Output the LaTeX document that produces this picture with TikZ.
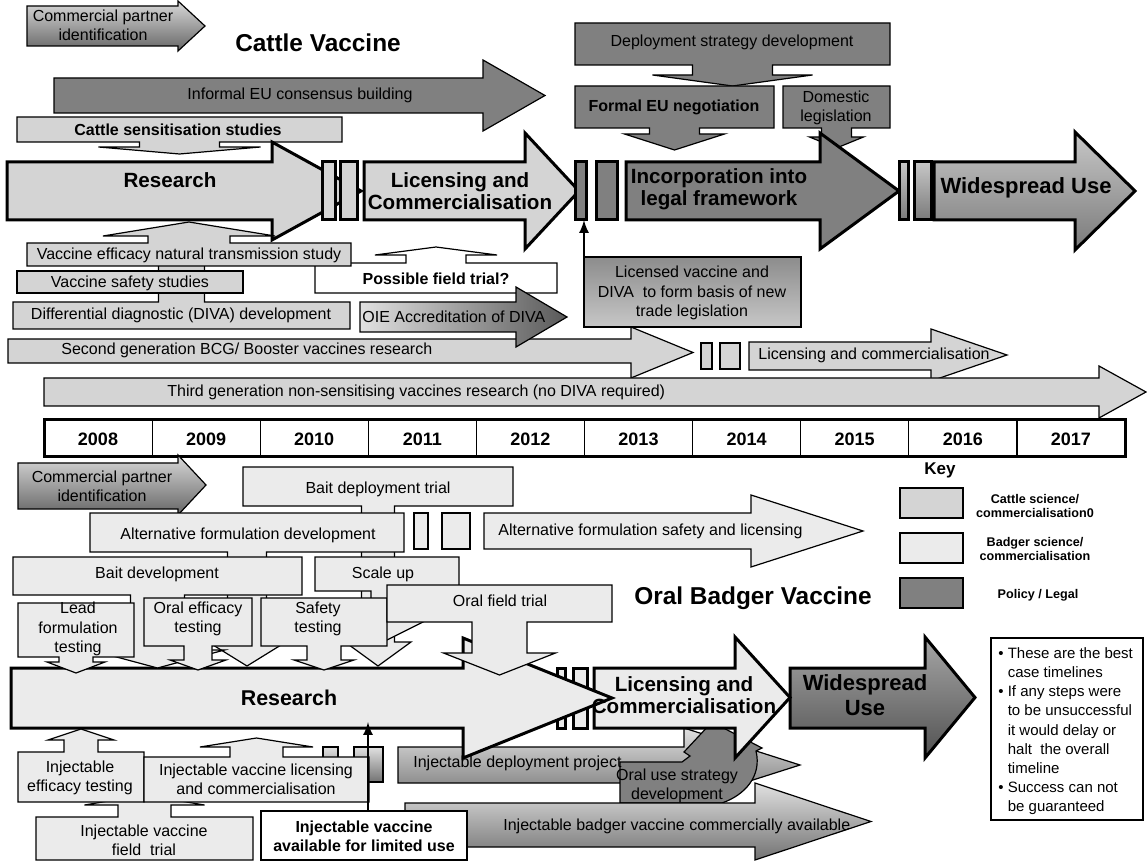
\documentclass[tikz,border=0pt]{standalone}
\usepackage{fontspec}
\setmainfont{Liberation Sans}
\usetikzlibrary{calc,positioning,arrows}

% block arrow to the right: style, x left, y top, x head, y bottom, head top, head bottom, tip x
\newcommand{\blockarr}[8]{\draw[#1] (#2,#3) -- (#4,#3) -- (#4,#6) -- (#8,{(#6+#7)/2}) -- (#4,#7) -- (#4,#5) -- (#2,#5) -- cycle;}
% box with an arrow out of one edge: style, x1, far edge y, x2, arrow edge y, stem half, shoulder y, head half, tip y
\newcommand{\boxarr}[9]{\draw[#1] (#2,#3) -- (#4,#3) -- (#4,#5) -- ({(#2+#4)/2+#6},#5) -- ({(#2+#4)/2+#6},#7) -- ({(#2+#4)/2+#8},#7) -- ({(#2+#4)/2},#9) -- ({(#2+#4)/2-#8},#7) -- ({(#2+#4)/2-#6},#7) -- ({(#2+#4)/2-#6},#5) -- (#2,#5) -- cycle;}

\begin{document}
\begin{tikzpicture}[x=0.5pt,y=-0.5pt,
 cattle/.style={draw, fill=black!17, line width=.6pt},
 badger/.style={draw, fill=black!8, line width=.6pt},
 policy/.style={draw, fill=black!50, line width=.6pt},
 plain/.style={draw, fill=white, line width=.6pt},
 gradC/.style={draw, top color=black!15, bottom color=black!60, line width=.6pt},
 gradW/.style={draw, top color=black!22, bottom color=black!52, line width=.6pt},
 gradD/.style={draw, top color=black!35, bottom color=black!68, line width=.6pt},
 gradI/.style={draw, top color=black!12, bottom color=black!55, line width=.6pt},
 gradL/.style={draw, top color=black!45, bottom color=black!22, line width=.6pt},
 oiegrad/.style={draw, left color=black!12, right color=black!65, line width=.6pt},
 heavy/.style={line width=1.5pt}]
\tikzstyle{txt}=[font=\fontsize{8}{9.6}\selectfont, align=center, inner sep=0pt]
\tikzstyle{txtb}=[txt, font=\fontsize{8}{9.6}\selectfont\bfseries]
\tikzstyle{bigb}=[txt, font=\fontsize{10.3}{11}\selectfont\bfseries]
\tikzstyle{ttl}=[txt, font=\fontsize{12.2}{14}\selectfont\bfseries]
\tikzstyle{keyt}=[txt, font=\fontsize{6.3}{7.3}\selectfont\bfseries]
\useasboundingbox (0,0) rectangle (1147,861);

% cattle vaccine
\blockarr{gradC}{27}{6}{178}{46}{1}{51}{205}
\blockarr{policy}{54}{78}{483}{113}{60}{131}{545}
\boxarr{policy}{575}{23}{890}{65}{40}{75}{80}{86}
\boxarr{policy}{575}{86}{774}{128}{25}{134}{50}{150}
\boxarr{policy}{783}{86}{890}{128}{15}{137}{27}{148}
\boxarr{cattle}{17}{117}{342}{142}{40}{147}{81}{154}
\blockarr{cattle,heavy}{7}{162}{272}{220}{142}{240}{361}
\draw[cattle,heavy] (322,162) rectangle (335,220) (340,162) rectangle (357,220);
\blockarr{cattle,heavy}{364}{162}{525}{220}{133}{249}{579}
\draw[policy,heavy] (575,162) rectangle (586,220) (596,162) rectangle (617,220);
\blockarr{policy,heavy}{626}{162}{820}{220}{133}{249}{899}
\draw[gradW,heavy] (899,162) rectangle (908,220) (914,162) rectangle (931,220);
\blockarr{gradW,heavy}{934}{162}{1075}{220}{132}{250}{1135}

\boxarr{plain}{315}{293}{557}{263}{30}{255}{61}{247}
\boxarr{cattle}{13}{329}{350}{302}{23}{255}{40}{245}
\draw[cattle] (17,271) rectangle (243,293);
\boxarr{cattle}{27}{266}{351}{243}{41}{236}{86}{222}
\blockarr{cattle}{8}{339}{631}{363}{327}{378}{693}
\blockarr{oiegrad}{360}{302}{516}{332}{287}{347}{567}
\draw[gradL] (584,257) rectangle (801,327);
\coordinate (licSW) at (584,327);
\coordinate (barC) at (584,220);
\draw[line width=1.2pt,-latex] (licSW) -- (barC);
\draw[cattle] (701,343) rectangle (712,369) (720,343) rectangle (740,369);
\blockarr{cattle}{749}{342}{931}{370}{329}{381}{1007}
\blockarr{cattle}{44}{378}{1099}{406}{366}{418}{1146}

% timeline
\draw[line width=1.5pt, fill=white] (44,420) rectangle (1125,457);
\foreach \i in {1,...,9}{\draw[line width=.6pt] ({44+\i*108.1},420) -- ({44+\i*108.1},457);}
\foreach \y [count=\i from 0] in {2008,...,2017}{
\node[txt, font=\fontsize{9}{10}\selectfont\bfseries] (y\y) at ({98+\i*108.1},439) {\y};
}

% oral badger vaccine
\blockarr{gradC}{18}{463}{178}{509}{455}{515}{206}
\draw[badger] (414,513) rectangle (428,549) (442,513) rectangle (470,549);
\blockarr{badger}{484}{513}{751}{549}{495}{567}{863}
\blockarr{gradD,heavy}{790}{668}{925}{728}{637}{758}{975}
\draw[gradI] (323,747) rectangle (338,782) (354,747) rectangle (383,782);
\blockarr{gradI}{398}{747}{684}{783}{728}{802}{800}
\draw[policy] (620,803) -- (620,762) -- (682,762) -- (690,756) -- (684,752) -- (712,722) -- (762,748) -- (756,751) .. controls (762,776) and (745,795) .. (722,803) -- cycle;
\blockarr{badger,heavy}{594}{668}{735}{728}{637}{758}{790}
\draw[badger,heavy] (557,668) rectangle (565,728) (573,668) rectangle (587,728);
\blockarr{badger,heavy}{11}{668}{463}{728}{638}{758}{612}
\boxarr{badger}{243}{467}{513}{506}{16.5}{642}{33}{666}
\boxarr{badger}{90}{513}{404}{552}{19.5}{645}{34}{666}
\boxarr{badger}{13}{557}{302}{595}{27}{650}{67}{668}
\boxarr{badger}{315}{557}{459}{591}{16}{620}{40}{640}
\boxarr{badger}{18}{603}{134}{657}{17}{662}{29}{673}
\boxarr{badger}{144}{598}{252}{646}{14}{660}{28}{670}
\boxarr{badger}{261}{598}{387}{646}{17}{660}{30}{670}
\boxarr{badger}{387}{585}{612}{622}{27.5}{653}{56}{675}
\boxarr{badger}{36}{860}{253}{817}{26.5}{805}{60}{795}
\boxarr{badger}{18}{802}{144}{752}{17}{740}{33}{729}
\boxarr{badger}{144}{802}{369}{757}{26.5}{747}{56.5}{738}
\blockarr{gradI}{405}{803}{755}{847}{783}{860}{871}
\draw[plain] (261,811) rectangle (467,860);
\coordinate (limN) at (368,811);
\coordinate (resB) at (368,722);
\draw[line width=1.2pt,-latex] (limN) -- (resB);

% key and notes
\draw[cattle] (900,488) rectangle (963,518);
\draw[badger] (900,533) rectangle (963,563);
\draw[policy] (900,578) rectangle (963,608);
\draw[plain] (991,638) rectangle (1143,820);

% labels
\node[txt] (cpic) at (103,25) {Commercial partner\\identification};
\node[ttl] (cvac) at (318,43) {Cattle Vaccine};
\node[txt] (infl) at (300,95) {Informal EU consensus building};
\node[txt] (depl) at (732,42) {Deployment strategy development};
\node[txtb] (feu) at (674,107) {Formal EU negotiation};
\node[txt] (dom) at (836,108) {Domestic\\legislation};
\node[txtb] (sens) at (178,130) {Cattle sensitisation studies};
\node[bigb] (resc) at (170,180) {Research};
\node[bigb] (lcc) at (460,191) {Licensing and\\Commercialisation};
\node[bigb] (inc) at (719,189) {Incorporation into\\legal framework};
\node[bigb, font=\fontsize{11}{12}\selectfont\bfseries] (wsc) at (1026,188) {Widespread Use};
\node[txt] (eff) at (189,255) {Vaccine efficacy natural transmission study};
\node[txt] (saf) at (130,283) {Vaccine safety studies};
\node[txt] (diva) at (181,315) {Differential diagnostic (DIVA) development};
\node[txtb] (pft) at (436,279) {Possible field trial?};
\node[txt, anchor=west] (oie) at (362,317) {OIE Accreditation of DIVA};
\node[txt] (lic) at (692,293) {Licensed vaccine and\\DIVA\ \ to form basis of new\\trade legislation};
\node[txt, anchor=west] (sec) at (61,350) {Second generation BCG/ Booster vaccines research};
\node[txt, anchor=west] (lcs) at (758,355) {Licensing and commercialisation};
\node[txt, anchor=west] (thd) at (167,392) {Third generation non-sensitising vaccines research (no DIVA required)};

\node[txt] (cpib) at (102,486) {Commercial partner\\identification};
\node[txt] (bdt) at (378,489) {Bait deployment trial};
\node[txt] (afd) at (248,535) {Alternative formulation development};
\node[txt, anchor=west] (afs) at (498,531) {Alternative formulation safety and licensing};
\node[txt] (bd) at (157,574) {Bait development};
\node[txt] (scl) at (383,574) {Scale up};
\node[txt] (lft) at (78,629) {Lead\\formulation\\testing};
\node[txt] (oet) at (198,619) {Oral efficacy\\testing};
\node[txt] (sft) at (318,619) {Safety\\testing};
\node[txt] (oft) at (500,601) {Oral field trial};
\node[ttl] (obv) at (753,598) {Oral Badger Vaccine};
\node[bigb, font=\fontsize{10.7}{12}\selectfont\bfseries] (resb) at (289,698) {Research};
\node[bigb] (lcb) at (684,695) {Licensing and\\Commercialisation};
\node[bigb, font=\fontsize{11}{12.5}\selectfont\bfseries] (wsb) at (865,695) {Widespread\\Use};
\node[txt] (iet) at (80,778) {Injectable\\efficacy testing};
\node[txt] (ilc) at (256,779) {Injectable vaccine licensing\\and commercialisation};
\node[txt, anchor=west] (idp) at (413,763) {Injectable deployment project};
\node[txt] (ous) at (677,786) {Oral use strategy\\development};
\node[txt, anchor=west] (ica) at (503,826) {Injectable badger vaccine commercially available};
\node[txtb] (ilu) at (364,836) {Injectable vaccine\\available for limited use};
\node[txt] (ift) at (144,840) {Injectable vaccine\\field\ \ trial};

\node[txt, font=\fontsize{8.5}{10}\selectfont\bfseries] (key) at (940,470) {Key};
\node[keyt] (kc) at (1035,506) {Cattle science/\\commercialisation0};
\node[keyt] (kb) at (1035,549) {Badger science/\\commercialisation};
\node[keyt] (kp) at (1038,595) {Policy / Legal};
\node[txt, anchor=north west, align=left, font=\fontsize{7.5}{9.6}\selectfont] (notes) at (998,647) {\textbullet\ These are the best\\\phantom{\textbullet\ }case timelines\\\textbullet\ If any steps were\\\phantom{\textbullet\ }to be unsuccessful\\\phantom{\textbullet\ }it would delay or\\\phantom{\textbullet\ }halt\ \ the overall\\\phantom{\textbullet\ }timeline\\\textbullet\ Success can not\\\phantom{\textbullet\ }be guaranteed};
\end{tikzpicture}
\end{document}
